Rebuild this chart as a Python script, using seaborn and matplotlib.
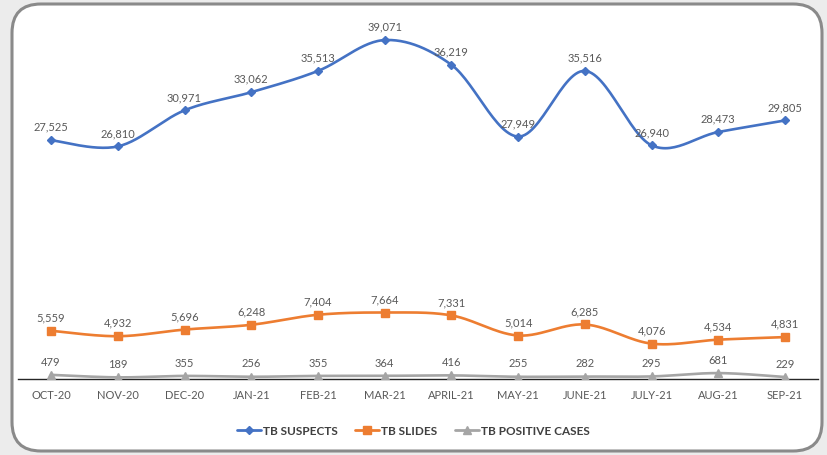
"""
TB suspects, slides and positive cases by month (Oct-20 to Sep-21)
"""

import numpy as np
import pandas as pd
import seaborn as sns
import matplotlib.pyplot as plt
from matplotlib.lines import Line2D
from matplotlib.patches import FancyBboxPatch

months = ["OCT-20", "NOV-20", "DEC-20", "JAN-21", "FEB-21", "MAR-21",
          "APRIL-21", "MAY-21", "JUNE-21", "JULY-21", "AUG-21", "SEP-21"]
tb_suspects = [27525, 26810, 30971, 33062, 35513, 39071,
               36219, 27949, 35516, 26940, 28473, 29805]
tb_slides = [5559, 4932, 5696, 6248, 7404, 7664,
             7331, 5014, 6285, 4076, 4534, 4831]
tb_positive = [479, 189, 355, 256, 355, 364,
               416, 255, 282, 295, 681, 229]

series = [
    ("TB SUSPECTS", tb_suspects, "#4472C4", "D", 4.5),
    ("TB SLIDES", tb_slides, "#ED7D31", "s", 5.5),
    ("TB POSITIVE CASES", tb_positive, "#A5A5A5", "^", 5.5),
]


def smooth(x, y, steps=30):
    """Catmull-Rom style bezier smoothing, like Excel's smoothed line"""
    pts = np.column_stack([x, y]).astype(float)
    padded = np.vstack([pts[0], pts, pts[-1]])
    out = []
    for i in range(len(pts) - 1):
        p0, p1, p2, p3 = padded[i], padded[i + 1], padded[i + 2], padded[i + 3]
        c1 = p1 + (p2 - p0) / 6
        c2 = p2 - (p3 - p1) / 6
        t = np.linspace(0, 1, steps)[:, None]
        seg = ((1 - t) ** 3) * p1 + 3 * ((1 - t) ** 2) * t * c1 \
            + 3 * (1 - t) * t ** 2 * c2 + t ** 3 * p2
        out.append(seg if i == 0 else seg[1:])
    out = np.vstack(out)
    return out[:, 0], out[:, 1]


sns.set_style("white")
plt.rcParams["font.family"] = ["Lato", "DejaVu Sans"]

fig = plt.figure(figsize=(8.27, 4.56), dpi=100)
fig.patch.set_facecolor("#ececec")
frame = FancyBboxPatch((12 / 827, 4 / 456), 810 / 827, 447 / 456,
                       boxstyle="round,pad=0,rounding_size=0.035",
                       transform=fig.transFigure, facecolor="white",
                       edgecolor="#8a8a8a", linewidth=2.2, zorder=-10,
                       mutation_aspect=827 / 456)
fig.patches.append(frame)

ax = fig.add_axes([17.7 / 827, 76 / 456, 800.7 / 827, 360 / 456])
ax.set_facecolor("none")
ax.set_zorder(2)

xpos = np.arange(len(months))
for name, vals, color, marker, msize in series:
    sx, sy = smooth(xpos, vals)
    df = pd.DataFrame({"x": sx, "y": sy})
    sns.lineplot(data=df, x="x", y="y", color=color, linewidth=1.9,
                 sort=False, ax=ax, zorder=3)
    ax.plot(xpos, vals, linestyle="none", marker=marker, markersize=msize,
            color=color, zorder=4)
    for xi, v in zip(xpos, vals):
        ax.annotate(f"{v:,}", (xi, v), xytext=(0, 6), textcoords="offset points",
                    ha="center", va="bottom", fontsize=8, color="#595959")

ax.set_xlim(-0.5, len(months) - 0.5)
ax.set_ylim(0, 41500)
ax.set_xticks(xpos)
ax.set_xticklabels(months, fontsize=8, color="#595959")
ax.tick_params(axis="x", length=0, pad=7)
ax.set_yticks([])
ax.set_xlabel("")
ax.set_ylabel("")
for side in ["top", "right", "left"]:
    ax.spines[side].set_visible(False)
ax.spines["bottom"].set_color("#262626")
ax.spines["bottom"].set_linewidth(1)

handles = [Line2D([], [], color=c, marker=m, markersize=ms, linewidth=2)
           for _, _, c, m, ms in series]
labels = [s[0] for s in series]
leg = fig.legend(handles, labels, loc="center", bbox_to_anchor=(0.5, 24 / 456),
                 ncol=3, frameon=False, handlelength=2, columnspacing=1.5,
                 handletextpad=0.2, prop={"size": 8.5, "weight": "bold"})
for t in leg.get_texts():
    t.set_color("#404040")

fig.savefig("out.png", dpi=100, facecolor=fig.get_facecolor())
